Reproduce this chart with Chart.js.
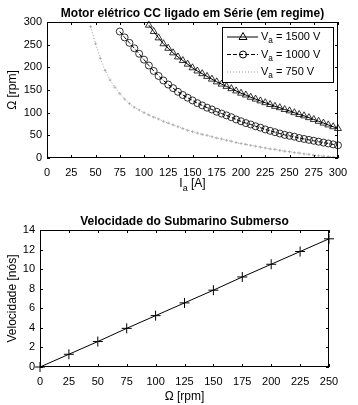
<!DOCTYPE html>
<html>
<head>
<meta charset="utf-8">
<script src="https://cdn.jsdelivr.net/npm/chart.js@4.4.1/dist/chart.umd.min.js"></script>
<style>
  body { margin: 0; background: #fff; }
  #motorChart { position: absolute; left: 0; top: 0; }
  #subChart { position: absolute; left: 0; top: 200px; }
</style>
</head>
<body>
<canvas id="motorChart" width="358" height="200"></canvas>
<canvas id="subChart" width="358" height="205"></canvas>
<script>
// armature current [A], shared by the three motor curves
const currentA = [45, 50, 55, 60, 65, 70, 75, 80, 85, 90, 95, 100, 105, 110, 115, 120, 125, 130,
  135, 140, 145, 150, 155, 160, 165, 170, 175, 180, 185, 190, 195, 200, 205, 210, 215, 220,
  225, 230, 235, 240, 245, 250, 255, 260, 265, 270, 275, 280, 285, 290, 295, 300];

// speed [rpm], null where the curve is off the plot
const speed1500 = [null, null, null, null, null, null, null, null, null, null, null, null,
  293, 279, 265, 252, 242, 232, 223, 215, 207, 199, 192, 186, 180, 174, 168, 163, 158, 153,
  148, 143, 139, 134, 130, 126, 122, 118, 114, 111, 107, 104, 100, 96, 93, 89, 85, 81, 77,
  73, 69, 65];
const speed1000 = [null, null, null, null, null, null,
  279, 266, 254, 242, 230, 217, 204, 192, 181, 171, 162, 154, 146, 139, 133, 127, 121, 116,
  111, 107, 102, 98, 94, 90, 85, 81, 77, 74, 70, 67, 63, 60, 57, 54, 51, 49, 47, 44, 42, 40,
  38, 36, 34, 32, 30, 28];
const speed750 = [290, 252, 220, 193, 172, 156, 142, 130, 120, 112, 106, 100, 95, 90, 86, 81,
  77, 73, 69, 65, 61, 58, 55, 52, 50, 47, 44, 42, 39, 37, 34, 32, 30, 28, 26, 24, 22, 20, 19,
  17, 15, 14, 12, 11, 9, 8, 6, 5, 4, 3, 2, 1];

// submarine
const shaftRpm = [0, 25, 50, 75, 100, 125, 150, 175, 200, 225, 250];
const speedKnots = [0, 1.3, 2.6, 3.95, 5.25, 6.55, 7.85, 9.2, 10.5, 11.8, 13.1];

const FONT = '"Liberation Sans", Arial, sans-serif';
Chart.defaults.font.family = FONT;
Chart.defaults.color = '#000';

function toPoints(xs, ys) {
  return xs.map((x, i) => ({ x: x, y: ys[i] })).filter(p => p.y !== null);
}

// draw text made of parts, some of them subscript; centred on x
function drawParts(ctx, parts, x, y, size, align) {
  const widths = parts.map(p => {
    ctx.font = (p.sub ? size * 0.75 : size) + 'px ' + FONT;
    return ctx.measureText(p.t).width;
  });
  const total = widths.reduce((a, b) => a + b, 0);
  let cx = align === 'left' ? x : x - total / 2;
  ctx.textBaseline = 'middle';
  ctx.textAlign = 'left';
  parts.forEach((p, i) => {
    ctx.font = (p.sub ? size * 0.75 : size) + 'px ' + FONT;
    ctx.fillText(p.t, cx, p.sub ? y + size * 0.35 : y);
    cx += widths[i];
  });
}

function drawMarker(ctx, style, x, y) {
  ctx.beginPath();
  if (style === 'triangle') {
    ctx.moveTo(x, y - 4.5);
    ctx.lineTo(x + 4, y + 2.5);
    ctx.lineTo(x - 4, y + 2.5);
    ctx.closePath();
  } else if (style === 'circle') {
    ctx.arc(x, y, 3.5, 0, Math.PI * 2);
  }
  ctx.stroke();
}

const framePlugin = {
  id: 'frame',
  afterDraw(chart, args, opts) {
    const ctx = chart.ctx;
    const a = chart.chartArea;
    const xs = chart.scales.x, ys = chart.scales.y;
    ctx.save();
    ctx.strokeStyle = '#000';
    ctx.fillStyle = '#000';
    ctx.lineWidth = 1;
    ctx.strokeRect(Math.round(a.left) + 0.5, Math.round(a.top) + 0.5,
      Math.round(a.width) - 1, Math.round(a.height) - 1);
    // inward ticks on all sides
    ctx.beginPath();
    xs.ticks.forEach(t => {
      const px = Math.round(xs.getPixelForValue(t.value)) + 0.5;
      ctx.moveTo(px, a.bottom); ctx.lineTo(px, a.bottom - 3);
      ctx.moveTo(px, a.top); ctx.lineTo(px, a.top + 3);
    });
    ys.ticks.forEach(t => {
      const py = Math.round(ys.getPixelForValue(t.value)) + 0.5;
      ctx.moveTo(a.left, py); ctx.lineTo(a.left + 3, py);
      ctx.moveTo(a.right, py); ctx.lineTo(a.right - 3, py);
    });
    ctx.stroke();

    // title
    ctx.font = 'bold 12px ' + FONT;
    ctx.textAlign = 'center';
    ctx.textBaseline = 'middle';
    ctx.fillText(opts.title, (a.left + a.right) / 2, opts.titleY);

    // axis labels
    drawParts(ctx, opts.xLabel, (a.left + a.right) / 2, opts.xLabelY, 12);
    ctx.save();
    ctx.translate(opts.yLabelX, (a.top + a.bottom) / 2);
    ctx.rotate(-Math.PI / 2);
    drawParts(ctx, opts.yLabel, 0, 0, 12);
    ctx.restore();

    // legend
    if (opts.legend) {
      const L = opts.legend;
      ctx.fillStyle = '#fff';
      ctx.fillRect(L.left, L.top, L.width, L.height);
      ctx.strokeStyle = '#000';
      ctx.strokeRect(L.left + 0.5, L.top + 0.5, L.width, L.height);
      L.items.forEach((item, i) => {
        const ds = chart.data.datasets[item.dataset];
        const y = L.top + 10 + i * 17.5;
        ctx.save();
        ctx.strokeStyle = ds.borderColor;
        ctx.lineWidth = ds.borderWidth;
        ctx.setLineDash(ds.borderDash || []);
        ctx.beginPath();
        ctx.moveTo(L.left + 5, y);
        ctx.lineTo(L.left + 36, y);
        ctx.stroke();
        ctx.setLineDash([]);
        ctx.strokeStyle = ds.pointBorderColor;
        drawMarker(ctx, item.marker, L.left + 21, y);
        ctx.restore();
        ctx.fillStyle = '#000';
        drawParts(ctx, item.text, L.left + 39, y, 11, 'left');
      });
    }
    ctx.restore();
  }
};

new Chart(document.getElementById('motorChart'), {
  type: 'line',
  data: {
    datasets: [
      {
        data: toPoints(currentA, speed1500),
        borderColor: '#000', borderWidth: 1,
        pointStyle: 'triangle', pointRadius: 4, pointBorderWidth: 0.8,
        pointBorderColor: '#000', pointBackgroundColor: 'rgba(0,0,0,0)'
      },
      {
        data: toPoints(currentA, speed1000),
        borderColor: '#000', borderWidth: 1, borderDash: [4, 2],
        pointStyle: 'circle', pointRadius: 3.5, pointBorderWidth: 0.8,
        pointBorderColor: '#000', pointBackgroundColor: 'rgba(0,0,0,0)'
      },
      {
        data: toPoints(currentA, speed750),
        borderColor: '#999', borderWidth: 1, borderDash: [1, 2],
        pointStyle: 'cross', pointRadius: 1.5, pointBorderWidth: 0.8,
        pointBorderColor: '#aaa', pointBackgroundColor: 'rgba(0,0,0,0)'
      }
    ]
  },
  options: {
    responsive: false,
    animation: false,
    layout: { padding: { top: 22, right: 20, left: 0, bottom: 0 } },
    clip: false,
    plugins: {
      legend: { display: false },
      tooltip: { enabled: false },
      frame: {
        title: 'Motor elétrico CC ligado em Série (em regime)',
        titleY: 14,
        xLabel: [{ t: 'I' }, { t: 'a', sub: true }, { t: ' [A]' }],
        xLabelY: 184,
        yLabel: [{ t: 'Ω [rpm]' }],
        yLabelX: 13,
        legend: {
          left: 222, top: 27, width: 111, height: 55,
          items: [
            { dataset: 0, marker: 'triangle', text: [{ t: 'V' }, { t: 'a', sub: true }, { t: ' = 1500 V' }] },
            { dataset: 1, marker: 'circle', text: [{ t: 'V' }, { t: 'a', sub: true }, { t: ' = 1000 V' }] },
            { dataset: 2, marker: 'none', text: [{ t: 'V' }, { t: 'a', sub: true }, { t: ' = 750 V' }] }
          ]
        }
      }
    },
    scales: {
      x: {
        type: 'linear', min: 0, max: 300,
        ticks: { stepSize: 25, padding: 8, font: { size: 11 }, maxRotation: 0 },
        grid: { display: false, drawTicks: false },
        border: { display: false },
        afterFit: s => { s.height = 42; }
      },
      y: {
        min: 0, max: 300,
        ticks: { stepSize: 50, padding: 5, font: { size: 11 } },
        grid: { display: false, drawTicks: false },
        border: { display: false },
        afterFit: s => { s.width = 47; }
      }
    }
  },
  plugins: [framePlugin]
});

new Chart(document.getElementById('subChart'), {
  type: 'line',
  data: {
    datasets: [{
      data: toPoints(shaftRpm, speedKnots),
      borderColor: '#000', borderWidth: 1,
      pointStyle: 'cross', pointRadius: 5, pointBorderWidth: 1,
      pointBorderColor: '#000', pointBackgroundColor: 'rgba(0,0,0,0)'
    }]
  },
  options: {
    responsive: false,
    animation: false,
    layout: { padding: { top: 30, right: 29, left: 0, bottom: 0 } },
    clip: false,
    plugins: {
      legend: { display: false },
      tooltip: { enabled: false },
      frame: {
        title: 'Velocidade do Submarino Submerso',
        titleY: 22,
        xLabel: [{ t: 'Ω [rpm]' }],
        xLabelY: 197,
        yLabel: [{ t: 'Velocidade [nós]' }],
        yLabelX: 13
      }
    },
    scales: {
      x: {
        type: 'linear', min: 0, max: 250,
        ticks: { stepSize: 25, padding: 8, font: { size: 11 }, maxRotation: 0 },
        grid: { display: false, drawTicks: false },
        border: { display: false },
        afterFit: s => { s.height = 38; }
      },
      y: {
        min: 0, max: 14,
        ticks: { stepSize: 2, padding: 5, font: { size: 11 } },
        grid: { display: false, drawTicks: false },
        border: { display: false },
        afterFit: s => { s.width = 40; }
      }
    }
  },
  plugins: [framePlugin]
});
</script>
</body>
</html>
